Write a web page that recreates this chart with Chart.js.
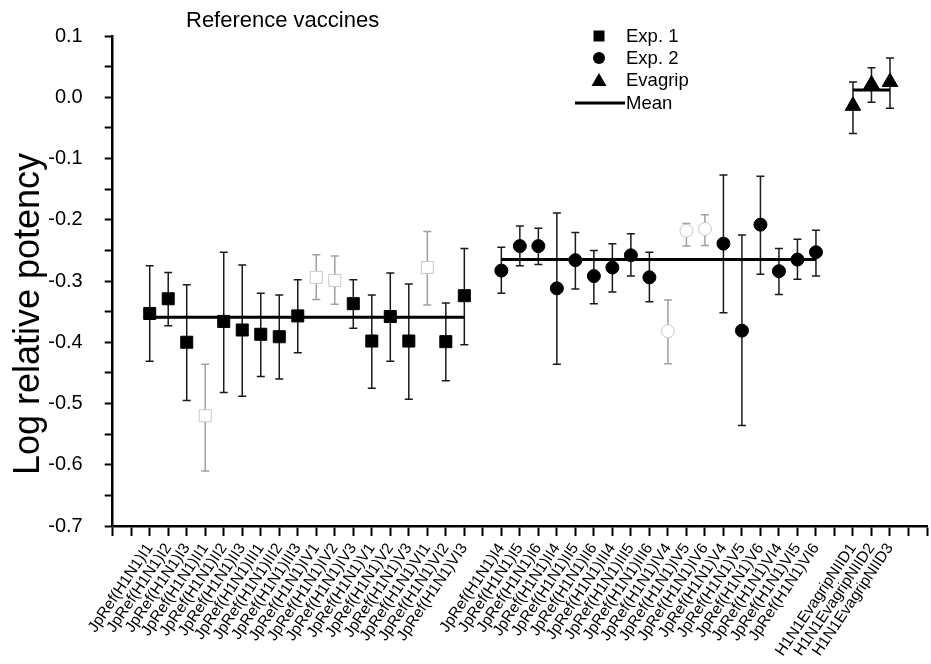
<!DOCTYPE html>
<html><head><meta charset="utf-8">
<script src="https://cdn.jsdelivr.net/npm/chart.js@4/dist/chart.umd.min.js"></script>
<style>html,body{margin:0;padding:0;background:#fff}#wrap{width:931px;height:664px;position:relative}</style>
</head><body><div id="wrap"><canvas id="c" width="931" height="664"></canvas></div>
<script>
// ---- tick labels (category slots, blank = empty slot) ----
const tickLabels = ['', '',
  'JpRef(H1N1)I1','JpRef(H1N1)I2','JpRef(H1N1)I3','JpRef(H1N1)II1','JpRef(H1N1)II2','JpRef(H1N1)II3',
  'JpRef(H1N1)III1','JpRef(H1N1)III2','JpRef(H1N1)III3','JpRef(H1N1)IV1','JpRef(H1N1)IV2','JpRef(H1N1)IV3',
  'JpRef(H1N1)V1','JpRef(H1N1)V2','JpRef(H1N1)V3','JpRef(H1N1)VI1','JpRef(H1N1)VI2','JpRef(H1N1)VI3',
  ' ',
  'JpRef(H1N1)I4','JpRef(H1N1)I5','JpRef(H1N1)I6','JpRef(H1N1)II4','JpRef(H1N1)II5','JpRef(H1N1)II6',
  'JpRef(H1N1)III4','JpRef(H1N1)III5','JpRef(H1N1)III6','JpRef(H1N1)IV4','JpRef(H1N1)IV5','JpRef(H1N1)IV6',
  'JpRef(H1N1)V4','JpRef(H1N1)V5','JpRef(H1N1)V6','JpRef(H1N1)VI4','JpRef(H1N1)VI5','JpRef(H1N1)VI6',
  '  ',
  'H1N1EvagripNIID1','H1N1EvagripNIID2','H1N1EvagripNIID3',
  '   ','    '];

// ---- Exp. 1 ----
const exp1Labels = tickLabels.slice(2, 20);
const exp1Values = [-0.353,-0.329,-0.400,-0.520,-0.366,-0.380,-0.387,-0.391,-0.357,-0.294,-0.299,-0.337,-0.398,-0.358,-0.398,-0.278,-0.399,-0.324];
const exp1Low    = [-0.431,-0.373,-0.495,-0.610,-0.482,-0.488,-0.456,-0.460,-0.417,-0.330,-0.338,-0.377,-0.475,-0.431,-0.493,-0.339,-0.463,-0.404];
const exp1High   = [-0.275,-0.286,-0.306,-0.436,-0.253,-0.274,-0.320,-0.323,-0.298,-0.257,-0.259,-0.298,-0.323,-0.287,-0.305,-0.219,-0.336,-0.247];
const exp1Excluded = [false,false,false,true,false,false,false,false,false,true,true,false,false,false,false,true,false,false];
const exp1Mean = -0.359;

// ---- Exp. 2 ----
const exp2Labels = tickLabels.slice(21, 39);
const exp2Values = [-0.283,-0.243,-0.243,-0.312,-0.266,-0.292,-0.278,-0.258,-0.294,-0.382,-0.218,-0.215,-0.239,-0.381,-0.208,-0.284,-0.265,-0.253];
const exp2Low    = [-0.320,-0.275,-0.273,-0.436,-0.313,-0.337,-0.318,-0.292,-0.334,-0.435,-0.243,-0.242,-0.352,-0.536,-0.289,-0.322,-0.297,-0.292];
const exp2High   = [-0.245,-0.210,-0.214,-0.189,-0.221,-0.250,-0.239,-0.223,-0.253,-0.331,-0.206,-0.192,-0.127,-0.225,-0.129,-0.247,-0.232,-0.217];
const exp2Excluded = [false,false,false,false,false,false,false,false,false,true,true,true,false,false,false,false,false,false];
const exp2Mean = -0.265;

// ---- Evagrip ----
const evaLabels = tickLabels.slice(40, 43);
const evaValues = [-0.014, 0.021, 0.025];
const evaLow    = [-0.059,-0.008,-0.018];
const evaHigh   = [ 0.025, 0.048, 0.064];
const evaExcluded = [false,false,false];
const evaMean = 0.012;

// ---- axis ----
const yMin = -0.7, yMax = 0.1, yStep = 0.05;
const legendLabels = ['Exp. 1','Exp. 2','Evagrip','Mean'];
const titleText = 'Reference vaccines';
const yTitle = 'Log relative potency';

const FONT = '"Liberation Sans", Arial, Helvetica, sans-serif';

function pts(labels, values){ return labels.map((l,i)=>({x:l, y:values[i]})); }

function pointSet(label, labels, values, low, high, excl, style, radius){
  return {
    label, type:'line', showLine:false,
    data: pts(labels, values),
    errLow: low, errHigh: high, excluded: excl,
    pointStyle: style, pointRadius: radius, pointHoverRadius: radius,
    pointBackgroundColor: c => excl[c.dataIndex] ? '#ffffff' : '#000000',
    pointBorderColor: c => excl[c.dataIndex] ? '#c8c8c8' : '#000000',
    pointBorderWidth: 1, clip:false
  };
}
function meanSet(labels, m){
  return {label:'Mean', type:'line', data:[{x:labels[0], y:m},{x:labels[labels.length-1], y:m}],
    borderColor:'#000', borderWidth:3, pointRadius:0, fill:false, clip:false};
}

const errorBars = {
  id:'errorBars',
  beforeDatasetsDraw(chart){
    const ctx = chart.ctx, xs = chart.scales.x, ys = chart.scales.y;
    chart.data.datasets.forEach(ds=>{
      if(!ds.errLow) return;
      ds.data.forEach((p,i)=>{
        const x = xs.getPixelForValue(tickLabels.indexOf(p.x));
        const y1 = ys.getPixelForValue(ds.errLow[i]);
        const y2 = ys.getPixelForValue(ds.errHigh[i]);
        ctx.save();
        ctx.strokeStyle = ds.excluded[i] ? '#a0a0a0' : '#1a1a1a';
        ctx.lineWidth = 1.5;
        ctx.beginPath();
        ctx.moveTo(x, y1); ctx.lineTo(x, y2);
        ctx.moveTo(x-4, y1); ctx.lineTo(x+4, y1);
        ctx.moveTo(x-4, y2); ctx.lineTo(x+4, y2);
        ctx.stroke();
        ctx.restore();
      });
    });
  }
};

const decorations = {
  id:'decorations',
  afterDraw(chart){
    const ctx = chart.ctx;
    ctx.save();
    ctx.fillStyle = '#000';
    // title
    ctx.font = '22px ' + FONT;
    ctx.textAlign = 'left'; ctx.textBaseline = 'alphabetic';
    ctx.fillText(titleText, 186, 27);
    // y title
    ctx.save();
    ctx.translate(29, 314);
    ctx.rotate(-Math.PI/2);
    ctx.font = '36px ' + FONT;
    ctx.textAlign = 'center'; ctx.textBaseline = 'middle';
    ctx.fillText(yTitle, 0, 0);
    ctx.restore();
    // legend
    const mx = 599, tx = 626, rows = [36, 58, 80, 103];
    ctx.font = '18.5px ' + FONT;
    ctx.textAlign = 'left'; ctx.textBaseline = 'middle';
    ctx.fillRect(mx-5.5, rows[0]-5.5, 11, 11);
    ctx.beginPath(); ctx.arc(mx, rows[1], 6, 0, Math.PI*2); ctx.fill();
    ctx.beginPath(); ctx.moveTo(mx, rows[2]-7); ctx.lineTo(mx+7.5, rows[2]+6); ctx.lineTo(mx-7.5, rows[2]+6); ctx.closePath(); ctx.fill();
    ctx.fillRect(575, rows[3]-1.5, 50, 3);
    legendLabels.forEach((t,i)=>ctx.fillText(t, tx, rows[i]+1));
    ctx.restore();
  }
};

new Chart(document.getElementById('c'), {
  type:'line',
  data:{
    labels: tickLabels,
    datasets:[
      meanSet(exp1Labels, exp1Mean),
      meanSet(exp2Labels, exp2Mean),
      meanSet(evaLabels, evaMean),
      pointSet('Exp. 1', exp1Labels, exp1Values, exp1Low, exp1High, exp1Excluded, 'rect', 8.5),
      pointSet('Exp. 2', exp2Labels, exp2Values, exp2Low, exp2High, exp2Excluded, 'circle', 6.5),
      pointSet('Evagrip', evaLabels, evaValues, evaLow, evaHigh, evaExcluded, 'triangle', 9)
    ]
  },
  options:{
    responsive:false, animation:false, devicePixelRatio:1,
    layout:{autoPadding:false, padding:{top:36, right:4, left:0, bottom:0}},
    plugins:{legend:{display:false}, tooltip:{enabled:false}, title:{display:false}},
    scales:{
      x:{
        type:'category', offset:false,
        grid:{drawOnChartArea:false, drawTicks:true, tickLength:10, color:'#000', tickWidth:2},
        border:{display:true, color:'#000', width:2.5},
        ticks:{autoSkip:false, maxRotation:56, minRotation:56, padding:4, color:'#000',
               font:{family:FONT, size:15.5}},
        afterFit(s){ s.height = 138; s.paddingLeft = 0; s.paddingRight = 0; }
      },
      y:{
        min:yMin, max:yMax,
        grid:{drawOnChartArea:false, drawTicks:true, tickLength:8, color:'#000', tickWidth:2},
        border:{display:true, color:'#000', width:2.5},
        ticks:{stepSize:yStep, autoSkip:false, padding:22, color:'#000',
               font:{family:FONT, size:20},
               callback(v){ const k = Math.round(v*20); if(k%2!==0) return ''; const r = k/20; return r===0 ? '0.0' : r.toFixed(1); }},
        afterFit(s){ s.width = 112.7; s.paddingTop = 0; s.paddingBottom = 0; }
      }
    }
  },
  plugins:[errorBars, decorations]
});
</script>
</body></html>
